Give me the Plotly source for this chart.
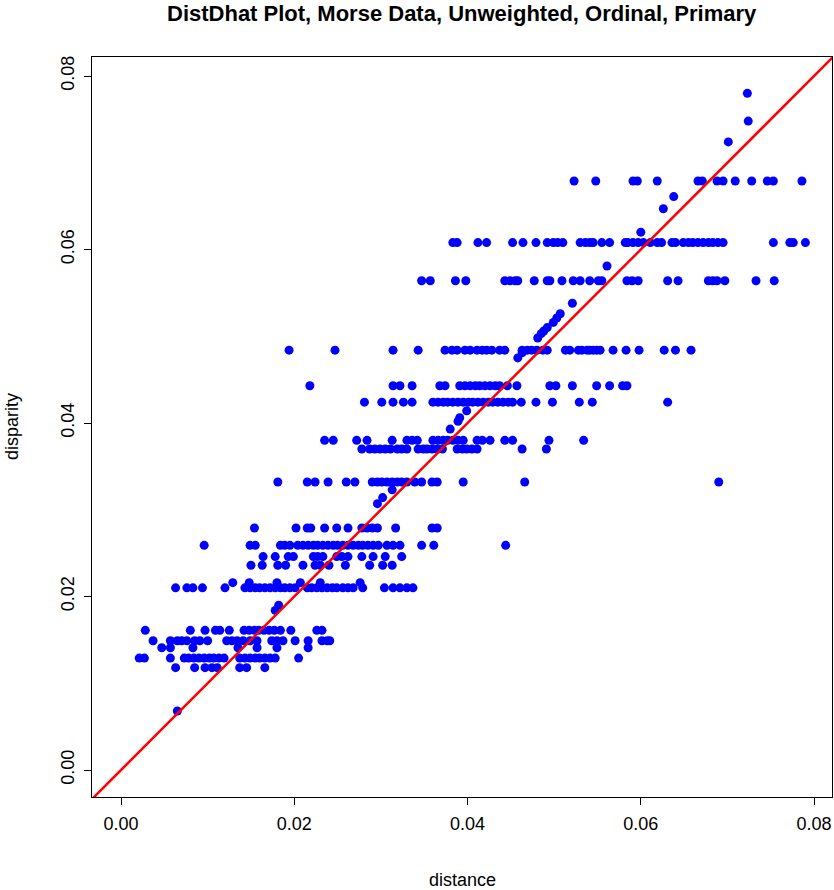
import plotly.graph_objects as go

# Ordinal disparity levels and the distances of the points that sit on each level
levels = {
    0.0679: [0.0523, 0.0548, 0.0591, 0.0596, 0.0619, 0.0666, 0.0671, 0.0688, 0.0695, 0.0709,
             0.0728, 0.0746, 0.0753, 0.0786],
    0.0608: [0.0383, 0.0388, 0.0412, 0.0422, 0.0452, 0.0464, 0.0479, 0.0492, 0.0499, 0.0504,
             0.0510, 0.0530, 0.0536, 0.0541, 0.0545, 0.0555, 0.0564, 0.0582, 0.0585, 0.0591,
             0.0597, 0.0603, 0.0611, 0.0619, 0.0624, 0.0636, 0.0640, 0.0649, 0.0655, 0.0660,
             0.0666, 0.0672, 0.0678, 0.0683, 0.0689, 0.0695, 0.0753, 0.0772, 0.0776, 0.0790],
    0.0564: [0.0347, 0.0357, 0.0386, 0.0398, 0.0443, 0.0449, 0.0455, 0.0458, 0.0477, 0.0492,
             0.0495, 0.0509, 0.0522, 0.0530, 0.0541, 0.0551, 0.0555, 0.0584, 0.0590, 0.0597,
             0.0631, 0.0643, 0.0678, 0.0683, 0.0688, 0.0697, 0.0733, 0.0754],
    0.0484: [0.0194, 0.0247, 0.0314, 0.0343, 0.0374, 0.0382, 0.0388, 0.0397, 0.0403, 0.0411,
             0.0417, 0.0422, 0.0428, 0.0437, 0.0443, 0.0463, 0.0469, 0.0474, 0.0480, 0.0487,
             0.0492, 0.0513, 0.0518, 0.0528, 0.0532, 0.0538, 0.0541, 0.0545, 0.0549, 0.0553,
             0.0568, 0.0583, 0.0598, 0.0627, 0.0640, 0.0658],
    0.0443: [0.0218, 0.0314, 0.0322, 0.0336, 0.0368, 0.0374, 0.0391, 0.0397, 0.0403, 0.0409,
             0.0414, 0.0420, 0.0426, 0.0432, 0.0437, 0.0446, 0.0457, 0.0495, 0.0502, 0.0521,
             0.0549, 0.0564, 0.0579, 0.0584],
    0.0424: [0.0281, 0.0301, 0.0314, 0.0326, 0.0336, 0.0360, 0.0366, 0.0372, 0.0377, 0.0383,
             0.0389, 0.0395, 0.0401, 0.0406, 0.0412, 0.0418, 0.0424, 0.0429, 0.0435, 0.0441,
             0.0447, 0.0452, 0.0462, 0.0479, 0.0498, 0.0529, 0.0544, 0.0631],
    0.0380: [0.0235, 0.0245, 0.0272, 0.0284, 0.0313, 0.0330, 0.0336, 0.0342, 0.0360, 0.0366,
             0.0372, 0.0377, 0.0383, 0.0389, 0.0395, 0.0411, 0.0417, 0.0426, 0.0443, 0.0452,
             0.0494, 0.0534],
    0.0370: [0.0278, 0.0287, 0.0293, 0.0299, 0.0305, 0.0311, 0.0319, 0.0324, 0.0330, 0.0343,
             0.0349, 0.0353, 0.0359, 0.0365, 0.0371, 0.0388, 0.0394, 0.0399, 0.0405, 0.0411,
             0.0463, 0.0491],
    0.0332: [0.0181, 0.0215, 0.0224, 0.0239, 0.0260, 0.0270, 0.0290, 0.0296, 0.0301, 0.0307,
             0.0313, 0.0319, 0.0324, 0.0330, 0.0339, 0.0347, 0.0359, 0.0365, 0.0395, 0.0466,
             0.0690],
    0.0279: [0.0154, 0.0202, 0.0215, 0.0219, 0.0235, 0.0249, 0.0262, 0.0278, 0.0284, 0.0290,
             0.0296, 0.0317, 0.0359, 0.0365],
    0.0259: [0.0096, 0.0149, 0.0155, 0.0184, 0.0189, 0.0195, 0.0204, 0.0210, 0.0216, 0.0222,
             0.0227, 0.0233, 0.0239, 0.0245, 0.0250, 0.0256, 0.0262, 0.0268, 0.0274, 0.0279,
             0.0285, 0.0291, 0.0297, 0.0307, 0.0314, 0.0322, 0.0347, 0.0361, 0.0444],
    0.0246: [0.0164, 0.0178, 0.0193, 0.0199, 0.0222, 0.0227, 0.0233, 0.0249, 0.0255, 0.0262,
             0.0278, 0.0291, 0.0305, 0.0324],
    0.0236: [0.0150, 0.0163, 0.0181, 0.0190, 0.0210, 0.0224, 0.0230, 0.0240, 0.0259, 0.0287,
             0.0302, 0.0313],
    0.0216: [0.0129, 0.0148, 0.0180, 0.0207, 0.0230, 0.0276],
    0.0210: [0.0063, 0.0076, 0.0083, 0.0094, 0.0120, 0.0143, 0.0149, 0.0155, 0.0160, 0.0166,
             0.0172, 0.0178, 0.0184, 0.0189, 0.0195, 0.0201, 0.0215, 0.0220, 0.0226, 0.0232,
             0.0238, 0.0244, 0.0249, 0.0256, 0.0262, 0.0268, 0.0279, 0.0304, 0.0314, 0.0322,
             0.0330, 0.0337],
    0.0161: [0.0028, 0.0080, 0.0097, 0.0109, 0.0114, 0.0125, 0.0142, 0.0148, 0.0154, 0.0159,
             0.0165, 0.0171, 0.0177, 0.0184, 0.0196, 0.0226, 0.0232],
    0.0149: [0.0037, 0.0057, 0.0065, 0.0070, 0.0076, 0.0085, 0.0091, 0.0100, 0.0122, 0.0128,
             0.0134, 0.0141, 0.0149, 0.0157, 0.0174, 0.0180, 0.0187, 0.0201, 0.0216, 0.0232,
             0.0238, 0.0241],
    0.0141: [0.0047, 0.0057, 0.0083, 0.0135, 0.0157, 0.0180, 0.0216],
    0.0129: [0.0021, 0.0027, 0.0057, 0.0073, 0.0078, 0.0084, 0.0090, 0.0096, 0.0102, 0.0107,
             0.0113, 0.0119, 0.0137, 0.0143, 0.0149, 0.0155, 0.0160, 0.0166, 0.0172, 0.0178,
             0.0205],
    0.0118: [0.0063, 0.0085, 0.0097, 0.0105, 0.0111, 0.0137, 0.0145, 0.0166],
}

# Points off the main levels (mostly near the diagonal)
single_distance = [0.0065, 0.0178, 0.0182, 0.0296, 0.0302, 0.0313, 0.0380, 0.0389, 0.0391,
                   0.0399, 0.0458, 0.0463, 0.0481, 0.0485, 0.0488, 0.0492, 0.0499, 0.0503,
                   0.0507, 0.0521, 0.0561, 0.0600, 0.0626, 0.0638, 0.0701, 0.0724, 0.0723]
single_disparity = [0.0068, 0.0184, 0.0190, 0.0307, 0.0314, 0.0323, 0.0393, 0.0402, 0.0406,
                    0.0414, 0.0475, 0.0481, 0.0498, 0.0503, 0.0506, 0.0510, 0.0516, 0.0521,
                    0.0526, 0.0538, 0.0581, 0.0620, 0.0647, 0.0661, 0.0724, 0.0748, 0.0780]

x_ticks = [0.00, 0.02, 0.04, 0.06, 0.08]
y_ticks = [0.00, 0.02, 0.04, 0.06, 0.08]
x_range = [-0.00335, 0.08207]
y_range = [-0.00311, 0.08219]

distance = []
disparity = []
for lev, ds in levels.items():
    distance.extend(ds)
    disparity.extend([lev] * len(ds))
distance.extend(single_distance)
disparity.extend(single_disparity)

FONT = "Liberation Sans, Arial, Helvetica, sans-serif"

fig = go.Figure()
fig.add_trace(go.Scatter(
    x=distance, y=disparity, mode="markers",
    marker=dict(color="#0000FF", size=9, line=dict(width=0)),
    showlegend=False, hoverinfo="x+y",
))
fig.add_trace(go.Scatter(
    x=[-0.01, 0.1], y=[-0.01, 0.1], mode="lines",
    line=dict(color="#FF0000", width=2.5),
    showlegend=False, hoverinfo="skip",
))

axis_common = dict(
    showgrid=False, zeroline=False, showline=True, mirror=True,
    linecolor="black", linewidth=1, ticks="outside", ticklen=7,
    tickcolor="black", tickwidth=1, tickformat=".2f",
    ticklabelstandoff=3,
    tickfont=dict(family=FONT, size=18, color="black"),
)
fig.update_layout(
    width=834, height=890,
    margin=dict(l=92, r=2, t=57, b=93),
    plot_bgcolor="white", paper_bgcolor="white",
    xaxis=dict(range=x_range, tickvals=x_ticks, **axis_common),
    yaxis=dict(range=y_range, tickvals=y_ticks, tickangle=-90, **axis_common),
    annotations=[
        dict(text="<b>DistDhat Plot, Morse Data, Unweighted, Ordinal, Primary</b>",
             xref="paper", yref="paper", x=0.5, y=1, yshift=44,
             xanchor="center", yanchor="middle", showarrow=False,
             font=dict(family=FONT, size=22, color="black")),
        dict(text="distance", xref="paper", yref="paper", x=0.5, y=0, yshift=-83,
             xanchor="center", yanchor="middle", showarrow=False,
             font=dict(family=FONT, size=18, color="black")),
        dict(text="disparity", xref="paper", yref="paper", x=0, y=0.5, xshift=-80,
             xanchor="center", yanchor="middle", textangle=-90, showarrow=False,
             font=dict(family=FONT, size=18, color="black")),
    ],
)

fig.write_html(
    "out.html",
    config={"displayModeBar": False},
    post_script="document.body.style.margin='0';document.body.style.overflow='hidden';",
)
